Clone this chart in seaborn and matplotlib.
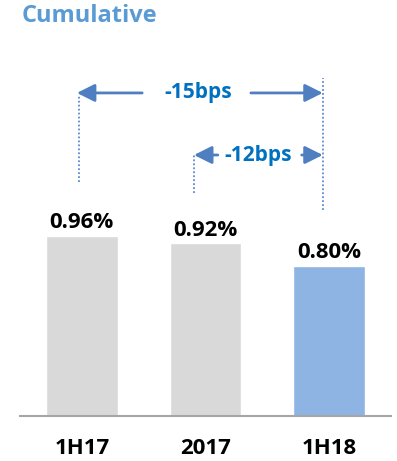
import matplotlib
matplotlib.use("Agg")
import matplotlib.pyplot as plt
import seaborn as sns
import pandas as pd

# Cumulative rate by period
periods = ["1H17", "2017", "1H18"]
rates = [0.96, 0.92, 0.80]
bar_colors = ["#D9D9D9", "#D9D9D9", "#8EB4E3"]

# Change annotations (bps)
changes = ["-15bps", "-12bps"]

sns.set_theme(style="white")
plt.rcParams["font.family"] = ["Open Sans", "DejaVu Sans"]

df = pd.DataFrame({"period": periods, "rate": rates})

fig = plt.figure(figsize=(3.97, 4.61), dpi=100)
ax = fig.add_axes([20 / 397, 45 / 461, 371 / 397, 375 / 461])

sns.barplot(data=df, x="period", y="rate", hue="period", palette=bar_colors,
            legend=False, width=0.58, saturation=1, ax=ax)

for cont in ax.containers:
    ax.bar_label(cont, labels=[f"{v:.2f}%" for v in cont.datavalues],
                 padding=2, fontsize=16, fontweight="bold", color="black")

ax.set_xlim(-0.5, 2.5)
ax.set_ylim(0, 2.0)
ax.set_xlabel("")
ax.set_ylabel("")
ax.set_yticks([])
for side in ["top", "left", "right"]:
    ax.spines[side].set_visible(False)
ax.spines["bottom"].set_color("#A6A6A6")
ax.spines["bottom"].set_linewidth(1.5)
ax.tick_params(axis="x", length=0, pad=15.5, labelsize=16)
for lbl in ax.get_xticklabels():
    lbl.set_fontweight("bold")
    lbl.set_color("black")

arrow_color = "#4F7FC0"
text_color = "#0070C0"
dot_kw = dict(color="#5B8BD0", linestyle=(0, (1, 1.2)), linewidth=1.3)

# Dotted reference lines
ax.plot([-0.02, -0.02], [1.248, 1.712], **dot_kw)
ax.plot([0.907, 0.907], [1.189, 1.392], **dot_kw)
ax.plot([1.948, 1.948], [1.099, 1.803], **dot_kw)

arrow_kw = dict(arrowstyle="-|>,head_length=0.9,head_width=0.45",
                color=arrow_color, lw=2, shrinkA=0, shrinkB=0)


def span(y, x_left, x_right, tail_left, tail_right, text, tx):
    ax.annotate("", xy=(x_left, y), xytext=(tail_left, y), arrowprops=arrow_kw)
    ax.annotate("", xy=(x_right, y), xytext=(tail_right, y), arrowprops=arrow_kw)
    ax.text(tx, y, text, ha="center", va="center", fontsize=15,
            fontweight="bold", color=text_color)


span(1.723, -0.04, 1.948, 0.488, 1.367, changes[0], 0.94)
span(1.392, 0.907, 1.948, 1.10, 1.778, changes[1], 1.423)

fig.text(22 / 397, 1 - 16 / 461, "Cumulative", ha="left", va="center",
         fontsize=17, fontweight="bold", color="#5B9BD5")

fig.savefig("out.png", dpi=100)
